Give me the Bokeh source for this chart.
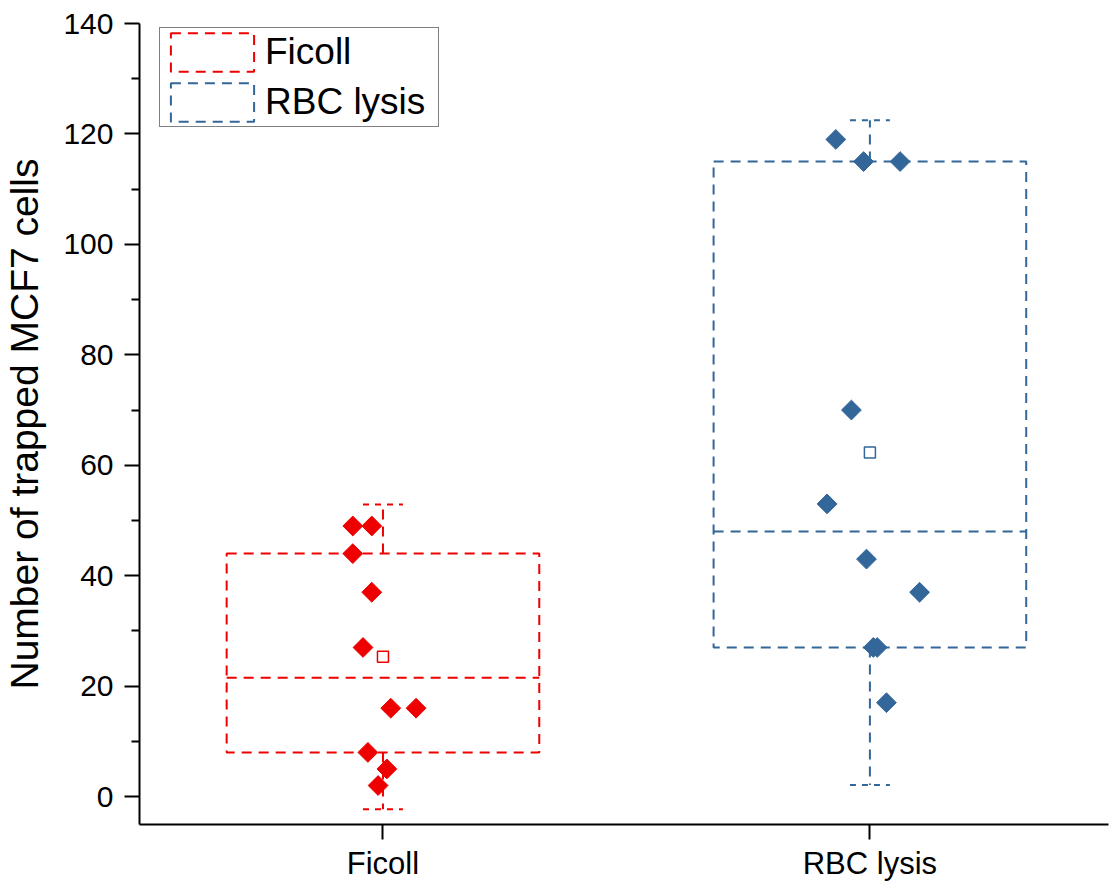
import numpy as np
from bokeh.plotting import figure
from bokeh.models import FixedTicker, Legend, LegendItem, Range1d, ColumnDataSource
from bokeh.embed import file_html
from bokeh.resources import INLINE

# ---------------- data ----------------
categories = ["Ficoll", "RBC lysis"]
colors = ["#EE0000", "#336699"]

ficoll_values = [49, 49, 44, 37, 27, 16, 16, 8, 5, 2]
ficoll_jitter = [-0.062, -0.023, -0.062, -0.023, -0.041, 0.016, 0.068, -0.031, 0.008, -0.010]
rbc_values = [119, 115, 115, 70, 53, 43, 37, 27, 27, 17]
rbc_jitter = [-0.070, -0.013, 0.062, -0.038, -0.088, -0.007, 0.102, 0.007, 0.015, 0.034]

box_q1 = [8, 27]
box_q3 = [44, 115]
box_median = [21.5, 48]
whisker_low = [-2.3, 2.1]
whisker_high = [52.9, 122.5]
means = [25.3, 62.3]

y_ticks = [0, 20, 40, 60, 80, 100, 120, 140]
y_minor = [10, 30, 50, 70, 90, 110, 130]

values = [ficoll_values, rbc_values]
jitters = [ficoll_jitter, rbc_jitter]

FONT = "Liberation Sans"
BOX_W = 0.642
CAP_W = 0.082
DASH = "10 7"

p = figure(width=1109, height=883, output_backend="svg", toolbar_location=None,
           x_range=Range1d(0.5, 2.49), y_range=Range1d(-5.06, 140),
           min_border_left=138, min_border_right=1, min_border_top=23, min_border_bottom=58)
p.outline_line_color = None
p.grid.visible = False
p.background_fill_color = "white"
p.border_fill_color = "white"

box_renderers = []
for i, cat in enumerate(categories):
    c = i + 1
    col = colors[i]
    src = ColumnDataSource(dict(l=[c - BOX_W / 2], r=[c + BOX_W / 2], b=[box_q1[i]], t=[box_q3[i]]))
    qr = p.quad(left="l", right="r", bottom="b", top="t", source=src, fill_color=None,
                line_color=col, line_width=2, line_dash=DASH)
    box_renderers.append(qr)
    # median
    p.segment(x0=[c - BOX_W / 2], x1=[c + BOX_W / 2], y0=[box_median[i]], y1=[box_median[i]],
              line_color=col, line_width=2, line_dash=DASH)
    # whiskers
    p.segment(x0=[c, c], x1=[c, c], y0=[box_q3[i], box_q1[i]], y1=[whisker_high[i], whisker_low[i]],
              line_color=col, line_width=2, line_dash=DASH)
    # caps
    p.segment(x0=[c - CAP_W / 2, c - CAP_W / 2], x1=[c + CAP_W / 2, c + CAP_W / 2],
              y0=[whisker_high[i], whisker_low[i]], y1=[whisker_high[i], whisker_low[i]],
              line_color=col, line_width=2, line_dash="6 6")
    # mean marker
    p.scatter(x=[c], y=[means[i]], marker="square", size=11, fill_color="white",
              line_color=col, line_width=1.5)
    # data points
    xs = [c + j for j in jitters[i]]
    p.scatter(x=xs, y=values[i], marker="square", angle=np.pi / 4, size=14,
              fill_color=col, line_color=col, line_width=1)

# axes
xa = p.xaxis[0]
xa.ticker = FixedTicker(ticks=[1, 2])
xa.major_label_overrides = {1: categories[0], 2: categories[1]}
xa.minor_tick_line_color = None
xa.major_tick_out = 15
xa.major_tick_in = 0
xa.major_label_standoff = 6
xa.major_label_text_font = FONT
xa.major_label_text_font_size = "31px"
xa.major_label_text_color = "black"
xa.axis_line_width = 2
xa.major_tick_line_width = 2
xa.axis_line_color = "black"

ya = p.yaxis[0]
ya.ticker = FixedTicker(ticks=y_ticks, minor_ticks=y_minor)
ya.major_tick_out = 15
ya.major_tick_in = 0
ya.minor_tick_out = 8
ya.minor_tick_in = 0
ya.major_label_standoff = 11
ya.major_label_text_font = FONT
ya.major_label_text_font_size = "30px"
ya.major_label_text_color = "black"
ya.axis_line_width = 2
ya.major_tick_line_width = 2
ya.minor_tick_line_width = 2
ya.axis_line_color = "black"
ya.axis_label = "Number of trapped MCF7 cells"
ya.axis_label_text_font = FONT
ya.axis_label_text_font_size = "39px"
ya.axis_label_text_font_style = "normal"
ya.axis_label_text_color = "black"
ya.axis_label_standoff = 14

legend = Legend(items=[LegendItem(label=categories[0], renderers=[box_renderers[0]]),
                       LegendItem(label=categories[1], renderers=[box_renderers[1]])],
                location=(20, 697), orientation="vertical",
                glyph_width=104, glyph_height=48, label_standoff=1, padding=0, spacing=2,
                label_width=173, margin=0,
                label_text_font=FONT, label_text_font_size="37px", label_text_color="black",
                border_line_color="black", border_line_width=1,
                background_fill_color="white", background_fill_alpha=1.0)
p.add_layout(legend)

open("out.html", "w").write(file_html(p, INLINE))
